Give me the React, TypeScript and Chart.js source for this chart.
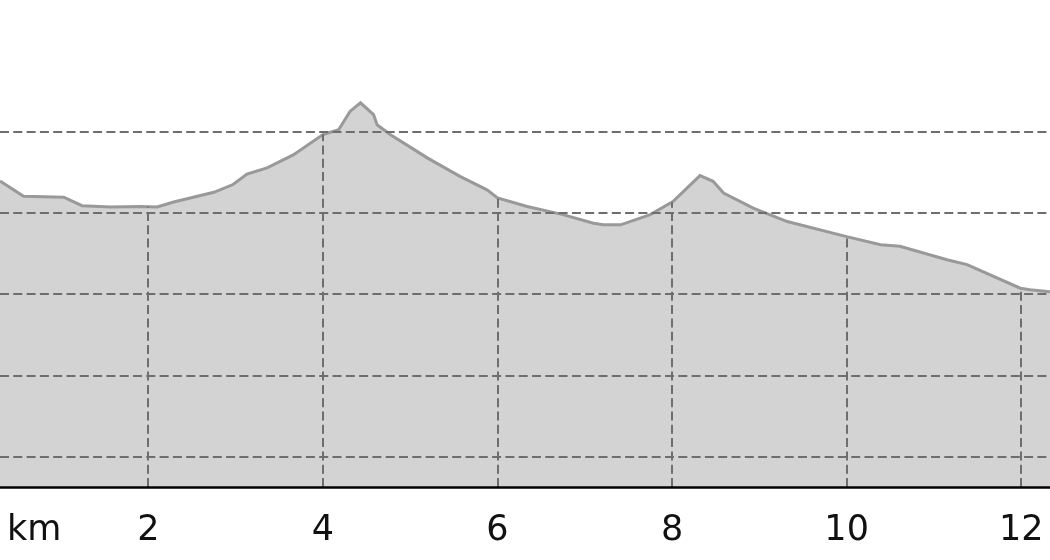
import React, { useEffect, useRef } from "react";
import { Chart, registerables } from "chart.js";

Chart.register(...registerables);

// distance along the route (km)
const distanceKm = [
  0.3, 0.57, 1.03, 1.24, 1.57, 1.91, 2.1, 2.29, 2.75, 2.97, 3.13, 3.36, 3.66, 4.0, 4.18,
  4.31, 4.43, 4.58, 4.62, 4.77, 5.2, 5.57, 5.88, 6.0, 6.34, 6.75, 7.1, 7.21, 7.41, 7.75,
  8.01, 8.32, 8.47, 8.59, 8.93, 9.32, 10.0, 10.39, 10.61, 11.15, 11.38, 11.99, 12.1, 12.33,
];
// elevation (m)
const elevation = [
  167.9, 164.1, 163.9, 161.8, 161.5, 161.6, 161.5, 162.7, 165.1, 167.0, 169.6, 171.1, 174.3, 179.3, 180.5,
  185.0, 187.1, 184.2, 181.7, 179.3, 173.5, 169.0, 165.7, 163.7, 161.6, 159.6, 157.5, 157.1, 157.1, 159.6,
  162.8, 169.2, 167.8, 164.9, 161.2, 157.9, 154.2, 152.2, 151.8, 148.5, 147.3, 141.5, 141.1, 140.6,
];
const xTicks = [2, 4, 6, 8, 10, 12];
const yGrid = [100, 120, 140, 160, 180];
const xUnit = "km";
const X_MIN = 0.3;
const X_MAX = 12.33;
const Y_MIN = 92.6;
const Y_MAX = 212.4;

function elevationAt(km: number): number {
  for (let i = 0; i < distanceKm.length - 1; i++) {
    const a = distanceKm[i], b = distanceKm[i + 1];
    if (km >= a && km <= b) {
      const t = (km - a) / (b - a);
      return elevation[i] + t * (elevation[i + 1] - elevation[i]);
    }
  }
  return elevation[elevation.length - 1];
}

const FONT = "'DejaVu Sans', sans-serif";

const overlayPlugin = {
  id: "profileOverlay",
  afterDatasetsDraw(chart: any) {
    const { ctx, chartArea } = chart;
    const xs = chart.scales.x;
    const ys = chart.scales.y;
    ctx.save();
    ctx.strokeStyle = "#6e6e6e";
    ctx.lineWidth = 2;
    ctx.setLineDash([9, 4.3]);
    yGrid.forEach((v) => {
      const py = Math.round(ys.getPixelForValue(v));
      ctx.beginPath();
      ctx.moveTo(chartArea.left, py);
      ctx.lineTo(chartArea.right, py);
      ctx.stroke();
    });
    xTicks.forEach((k) => {
      const px = Math.round(xs.getPixelForValue(k));
      const top = ys.getPixelForValue(elevationAt(k));
      ctx.beginPath();
      ctx.moveTo(px, chartArea.bottom);
      ctx.lineTo(px, top);
      ctx.stroke();
    });
    ctx.setLineDash([]);
    ctx.strokeStyle = "#000000";
    ctx.lineWidth = 2.5;
    ctx.beginPath();
    ctx.moveTo(chartArea.left, chartArea.bottom + 0.5);
    ctx.lineTo(chartArea.right, chartArea.bottom + 0.5);
    ctx.stroke();
    ctx.restore();
  },
  afterDraw(chart: any) {
    const { ctx, chartArea } = chart;
    ctx.save();
    ctx.fillStyle = "#111111";
    ctx.font = `35px ${FONT}`;
    ctx.textAlign = "left";
    ctx.textBaseline = "alphabetic";
    ctx.fillText(xUnit, chartArea.left + 7, 540);
    ctx.restore();
  },
};

export default function App() {
  const ref = useRef<HTMLCanvasElement | null>(null);
  useEffect(() => {
    if (!ref.current) return;
    const chart = new Chart(ref.current, {
      type: "line",
      data: {
        datasets: [
          {
            data: distanceKm.map((d, i) => ({ x: d, y: elevation[i] })),
            borderColor: "#999999",
            borderWidth: 3,
            backgroundColor: "#d3d3d3",
            fill: "start",
            pointRadius: 0,
            tension: 0,
          },
        ],
      },
      options: {
        responsive: false,
        animation: false,
        layout: { padding: 0 },
        plugins: { legend: { display: false }, tooltip: { enabled: false } },
        scales: {
          x: {
            type: "linear",
            min: X_MIN,
            max: X_MAX,
            grid: { display: false },
            border: { display: false },
            afterBuildTicks: (scale: any) => {
              scale.ticks = xTicks.map((v) => ({ value: v }));
            },
            afterFit: (scale: any) => {
              scale.height = 73;
              scale.paddingLeft = 0;
              scale.paddingRight = 0;
            },
            ticks: {
              autoSkip: false,
              maxRotation: 0,
              padding: 15,
              color: "#111111",
              font: { family: FONT, size: 35 },
            },
          },
          y: {
            display: false,
            min: Y_MIN,
            max: Y_MAX,
          },
        },
      },
      plugins: [overlayPlugin],
    } as any);
    return () => chart.destroy();
  }, []);
  return (
    <div style={{ position: "fixed", left: 0, top: 0, width: 1050, height: 560, background: "#fff" }}>
      <canvas ref={ref} width={1050} height={560} />
    </div>
  );
}
